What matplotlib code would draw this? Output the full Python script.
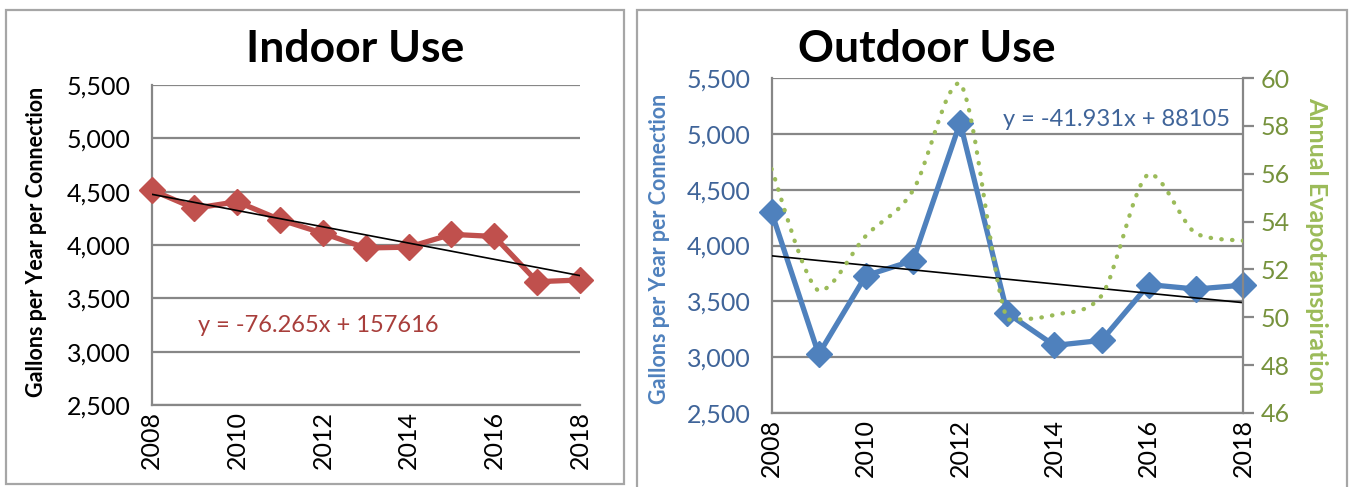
import matplotlib.pyplot as plt
from matplotlib.path import Path
from matplotlib.patches import PathPatch, Rectangle

# data
years = [2008, 2009, 2010, 2011, 2012, 2013, 2014, 2015, 2016, 2017, 2018]
indoor = [4516, 4344, 4406, 4237, 4110, 3972, 3980, 4100, 4080, 3656, 3672]
outdoor = [4300, 3025, 3730, 3865, 5100, 3395, 3105, 3150, 3650, 3610, 3645]
evapo = [56.2, 51.1, 53.4, 55.3, 59.8, 49.9, 50.1, 50.9, 56.0, 53.5, 53.2]

indoor_trend = (-76.265, 157616)
outdoor_trend = (-41.931, 88105)

gallons_ticks = [2500, 3000, 3500, 4000, 4500, 5000, 5500]
evapo_ticks = [46, 48, 50, 52, 54, 56, 58, 60]
year_ticks = [2008, 2010, 2012, 2014, 2016, 2018]

RED = '#C0504D'
BLUE = '#4F81BD'
GREEN = '#9BBB59'
GRID = '#878787'

plt.rcParams['font.family'] = ['Lato', 'DejaVu Sans']

W, H = 1351, 487


def fx(px):
    return px / W


def fy(py):
    return 1 - py / H


def smooth_path(xs, ys):
    """Bezier curve through the points, like Excel's smoothed line"""
    n = len(xs)
    verts = [(xs[0], ys[0])]
    codes = [Path.MOVETO]
    for i in range(n - 1):
        a = max(i - 1, 0)
        d = min(i + 2, n - 1)
        lo, hi = min(ys[i], ys[i + 1]), max(ys[i], ys[i + 1])
        c1y = min(max(ys[i] + (ys[i + 1] - ys[a]) / 6, lo), hi)
        c2y = min(max(ys[i + 1] - (ys[d] - ys[i]) / 6, lo), hi)
        c1 = (xs[i] + (xs[i + 1] - xs[a]) / 6, c1y)
        c2 = (xs[i + 1] - (xs[d] - xs[i]) / 6, c2y)
        verts += [c1, c2, (xs[i + 1], ys[i + 1])]
        codes += [Path.CURVE4] * 3
    return Path(verts, codes)


def style_axes(ax, label_color):
    ax.set_xlim(2008, 2018)
    ax.set_ylim(2500, 5500)
    ax.set_yticks(gallons_ticks)
    ax.set_yticklabels([f'{t:,}' for t in gallons_ticks])
    ax.set_xticks(year_ticks)
    ax.set_xticklabels([str(t) for t in year_ticks], rotation=90)
    ax.grid(axis='y', color=GRID, linewidth=1.6)
    ax.set_axisbelow(True)
    for s in ['top', 'right']:
        ax.spines[s].set_visible(False)
    for s in ['left', 'bottom']:
        ax.spines[s].set_color(GRID)
        ax.spines[s].set_linewidth(1.6)
    ax.tick_params(axis='y', length=0, pad=15, labelsize=18, labelcolor=label_color)
    ax.tick_params(axis='x', length=0, pad=4, labelsize=18, labelcolor='black')


fig = plt.figure(figsize=(W / 100, H / 100), dpi=100)

# panel frames
fig.add_artist(Rectangle((fx(6), fy(484)), fx(618), 474 / H, transform=fig.transFigure,
                         fill=False, edgecolor='#A6A6A6', linewidth=1.6))
fig.add_artist(Rectangle((fx(637), fy(500)), fx(710), 490 / H, transform=fig.transFigure,
                         fill=False, edgecolor='#A6A6A6', linewidth=1.6))

# ---- Indoor Use ----
ax1 = fig.add_axes([fx(151.5), fy(405), fx(428.5), 320 / H])
style_axes(ax1, 'black')
ax1.plot(years, indoor, color=RED, linewidth=3.8, marker='D', markersize=13, clip_on=False, zorder=3)
tx = [years[0], years[-1]]
ax1.plot(tx, [indoor_trend[0] * x + indoor_trend[1] for x in tx], color='black', linewidth=1.2, zorder=4)
ax1.text(2009.08, 3250, f'y = {indoor_trend[0]}x + {indoor_trend[1]}', color='#A83E3B',
         fontsize=17, va='center', ha='left')
ax1.set_ylabel('Gallons per Year per Connection', fontsize=15.5, fontweight='bold')
ax1.yaxis.set_label_coords(-0.244, 0.51)
fig.text(fx(355), fy(62), 'Indoor Use', fontsize=32, fontweight='bold', ha='center', va='baseline')

# ---- Outdoor Use ----
ax2 = fig.add_axes([fx(771.5), fy(413), fx(471.5), 335 / H])
style_axes(ax2, '#3F6499')
ax2.plot(years, outdoor, color=BLUE, linewidth=3.8, marker='D', markersize=13, clip_on=False, zorder=3)
ax2.plot(tx, [outdoor_trend[0] * x + outdoor_trend[1] for x in tx], color='black', linewidth=1.2, zorder=4)
ax2.text(2012.91, 5124, f'y = {outdoor_trend[0]}x + {outdoor_trend[1]}', color='#3F6499',
         fontsize=17, va='center', ha='left')
ax2.set_ylabel('Gallons per Year per Connection', fontsize=15.5, fontweight='bold', color=BLUE)
ax2.yaxis.set_label_coords(-0.215, 0.49)

ax3 = ax2.twinx()
ax3.set_ylim(46, 60)
ax3.set_yticks(evapo_ticks)
for s in ['top', 'left', 'bottom']:
    ax3.spines[s].set_visible(False)
ax3.spines['right'].set_color(GRID)
ax3.spines['right'].set_linewidth(1.6)
ax3.tick_params(axis='y', length=8, width=1.6, color=GRID, direction='out', pad=5,
                labelsize=18, labelcolor='#76923C')
et = PathPatch(smooth_path(years, evapo), transform=ax3.transData, facecolor='none',
               edgecolor=GREEN, linewidth=3.1, linestyle=(0, (0.1, 2.4)), capstyle='round', zorder=5)
ax3.add_patch(et)
ax3.set_ylabel('Annual Evapotranspiration', fontsize=18, fontweight='bold', color=GREEN, rotation=-90)
ax3.yaxis.set_label_coords(1.18, 0.5)
fig.text(fx(927), fy(62), 'Outdoor Use', fontsize=32, fontweight='bold', ha='center', va='baseline')

plt.savefig('out.png', dpi=100)
